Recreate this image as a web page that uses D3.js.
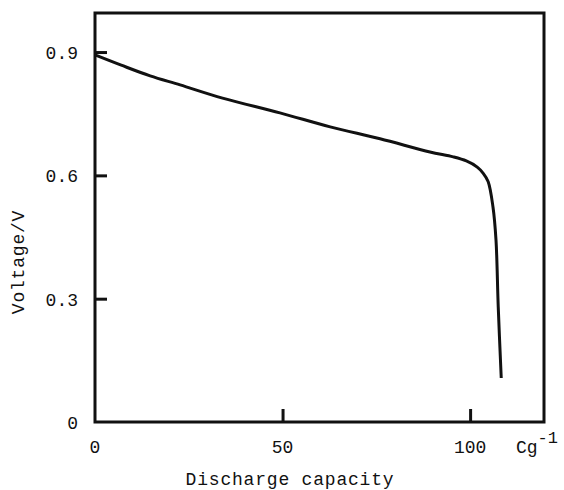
<!DOCTYPE html>
<html>
<head>
<meta charset="utf-8">
<script src="https://cdn.jsdelivr.net/npm/d3@7"></script>
<style>
  body { margin: 0; background: #fff; }
  svg text { font-family: "Liberation Mono", "DejaVu Sans Mono", monospace; fill: #111; }
</style>
</head>
<body>
<svg id="chart" width="564" height="490"></svg>
<script>
// discharge curve
const capacity = [0, 7, 14.7, 22.7, 34, 49.3, 62.7, 76, 89.3, 95.5, 99, 101.9, 103.5, 104.8, 106.1, 106.9, 107.5, 108.3];
const voltage = [0.893, 0.868, 0.842, 0.820, 0.788, 0.752, 0.718, 0.689, 0.657, 0.645, 0.635, 0.620, 0.605, 0.585, 0.523, 0.443, 0.280, 0.107];

const xTicks = [50, 100];
const xTickLabels = ["0", "50", "100"];
const yTicks = [0.3, 0.6, 0.9];
const yTickLabels = ["0", "0.3", "0.6", "0.9"];

const margin = { top: 13, right: 20, bottom: 68, left: 95 };
const width = 564, height = 490;

const svg = d3.select("#chart");

const x = d3.scaleLinear()
  .domain([0, 119.7])
  .range([margin.left, width - margin.right]);

const y = d3.scaleLinear()
  .domain([0, 0.995])
  .range([height - margin.bottom, margin.top]);

const ink = "#111";

// frame
svg.append("rect")
  .attr("x", x(0))
  .attr("y", y(0.995))
  .attr("width", x(119.7) - x(0))
  .attr("height", y(0) - y(0.995))
  .attr("fill", "none")
  .attr("stroke", ink)
  .attr("stroke-width", 3);

// x ticks point up into the plot
svg.append("g")
  .attr("transform", `translate(0,${y(0)})`)
  .call(d3.axisTop(x).tickValues(xTicks).tickSize(13).tickFormat(""))
  .call((g) => g.select(".domain").remove())
  .call((g) => g.selectAll("line").attr("stroke", ink).attr("stroke-width", 3));

// y ticks point right into the plot
svg.append("g")
  .attr("transform", `translate(${x(0) + 1},0)`)
  .call(d3.axisRight(y).tickValues(yTicks).tickSize(11).tickFormat(""))
  .call((g) => g.select(".domain").remove())
  .call((g) => g.selectAll("line").attr("stroke", ink).attr("stroke-width", 3));

// tick labels
svg.selectAll(".xlab")
  .data([0].concat(xTicks))
  .enter()
  .append("text")
  .attr("class", "xlab")
  .attr("x", (d) => x(d))
  .attr("y", y(0) + 31)
  .attr("text-anchor", "middle")
  .attr("font-size", 18)
  .text((d, i) => xTickLabels[i]);

svg.selectAll(".ylab")
  .data([0].concat(yTicks))
  .enter()
  .append("text")
  .attr("class", "ylab")
  .attr("x", 78)
  .attr("y", (d) => y(d) + 7)
  .attr("text-anchor", "end")
  .attr("font-size", 18)
  .text((d, i) => yTickLabels[i]);

// unit
const unit = svg.append("text")
  .attr("x", 516)
  .attr("y", y(0) + 31)
  .attr("font-size", 18);
unit.append("tspan").text("Cg");
unit.append("tspan").attr("dy", -10).attr("font-size", 17).text("-1");

// axis titles
svg.append("text")
  .attr("x", 290)
  .attr("y", 485)
  .attr("text-anchor", "middle")
  .attr("font-size", 18)
  .attr("letter-spacing", 0.8)
  .text("Discharge capacity");

svg.append("text")
  .attr("transform", `translate(24,262) rotate(-90)`)
  .attr("text-anchor", "middle")
  .attr("font-size", 18)
  .attr("letter-spacing", 0.8)
  .text("Voltage/V");

// curve
const points = capacity.map((c, i) => [c, voltage[i]]);
const line = d3.line()
  .x((d) => x(d[0]))
  .y((d) => y(d[1]))
  .curve(d3.curveCatmullRom.alpha(0.5));

svg.append("path")
  .datum(points)
  .attr("fill", "none")
  .attr("stroke", ink)
  .attr("stroke-width", 3)
  .attr("stroke-linejoin", "round")
  .attr("d", line);
</script>
</body>
</html>
